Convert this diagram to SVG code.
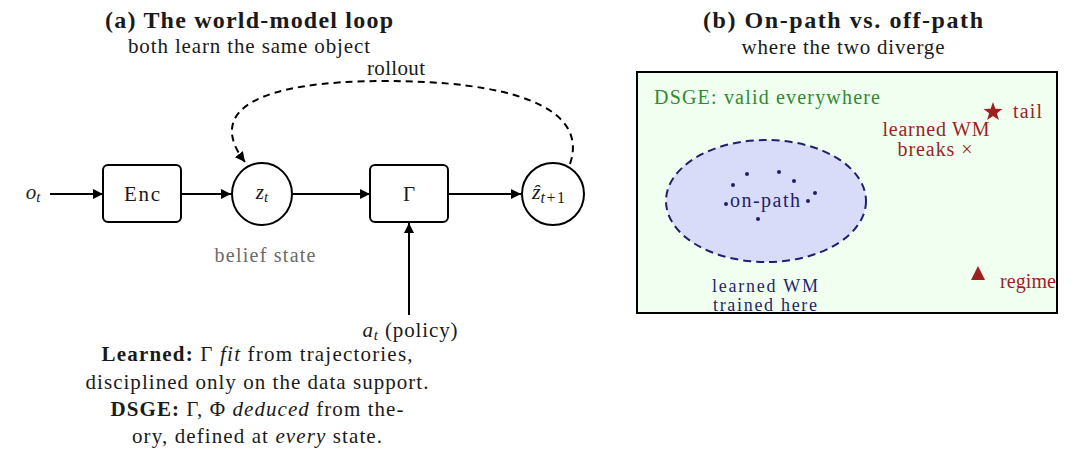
<svg xmlns="http://www.w3.org/2000/svg" width="1080" height="460" viewBox="0 0 1080 460">
  <style>
    text { font-family: "Liberation Serif", "Times New Roman", serif; fill: #1a1a1a; }
    .title { font-size: 24px; font-weight: bold; text-anchor: middle; }
    .sub { font-size: 21px; text-anchor: middle; }
    .lbl { font-size: 21px; text-anchor: middle; }
    .it { font-style: italic; }
    .b { font-weight: bold; }
    .node { fill: #ffffff; stroke: #000; stroke-width: 2; }
    .edge { fill: none; stroke: #000; stroke-width: 2; }
    .dash { fill: none; stroke: #000; stroke-width: 2; stroke-dasharray: 7 5; }
    .red { fill: #9e1f1f; }
    .navy { fill: #1f1f6e; }
    .green { fill: #2e8b2e; }
  </style>
  <defs>
    <marker id="arr" viewBox="0 0 10 10" refX="10" refY="5" markerWidth="10" markerHeight="10" markerUnits="userSpaceOnUse" orient="auto">
      <path d="M0,0 L10,5 L0,10 z" fill="#000"/>
    </marker>
  </defs>
  <rect x="0" y="0" width="1080" height="460" fill="#ffffff"/>

  <!-- Panel (a) -->
  <text class="title" x="249" y="28" textLength="288" lengthAdjust="spacing">(a) The world-model loop</text>
  <text class="sub" x="249" y="53" textLength="242" lengthAdjust="spacing">both learn the same object</text>

  <g id="connectors">
    <line class="edge" x1="50" y1="194" x2="103" y2="194" marker-end="url(#arr)"/>
    <line class="edge" x1="181" y1="194" x2="231" y2="194" marker-end="url(#arr)"/>
    <line class="edge" x1="293" y1="194" x2="370" y2="194" marker-end="url(#arr)"/>
    <line class="edge" x1="448" y1="194" x2="521" y2="194" marker-end="url(#arr)"/>
    <line class="edge" x1="409" y1="315" x2="409" y2="223" marker-end="url(#arr)"/>
    <path class="dash" d="M570,164 C590,105 505,81 385,81 C258,81 205,110 245,162" marker-end="url(#arr)"/>
    <text class="sub" x="396" y="75" textLength="58" lengthAdjust="spacing">rollout</text>
  </g>

  <g id="o_t">
    <text class="lbl" x="33" y="199"><tspan class="it">o</tspan><tspan class="it" font-size="15" dy="3">t</tspan></text>
  </g>
  <g id="enc">
    <rect class="node" x="103" y="165" width="78" height="57" rx="5"/>
    <text class="lbl" x="142" y="201" textLength="36" lengthAdjust="spacing">Enc</text>
  </g>
  <g id="z_t">
    <ellipse class="node" cx="262" cy="194" rx="30" ry="31"/>
    <text class="lbl" x="262" y="199" font-size="22"><tspan class="it">z</tspan><tspan class="it" font-size="15" dy="3">t</tspan></text>
    <text x="265" y="262" font-size="20" text-anchor="middle" style="fill:#6a6a6a" textLength="101" lengthAdjust="spacing">belief state</text>
  </g>
  <g id="gamma">
    <rect class="node" x="370" y="165" width="78" height="57" rx="5"/>
    <text class="lbl" x="409" y="201">Γ</text>
  </g>
  <g id="zhat">
    <ellipse class="node" cx="553" cy="194" rx="31" ry="31"/>
    <text x="532" y="199" font-size="22"><tspan class="it">ẑ</tspan><tspan font-size="16" dy="4" letter-spacing="1.5"><tspan class="it">t</tspan>+1</tspan></text>
  </g>
  <g id="a_t">
    <text class="lbl" x="410" y="337" textLength="95" lengthAdjust="spacing"><tspan class="it">a</tspan><tspan class="it" font-size="15" dy="3">t</tspan><tspan dy="-3"> (policy)</tspan></text>
  </g>

  <g id="notes">
    <text class="lbl" x="257" y="361" textLength="311" lengthAdjust="spacing"><tspan class="b">Learned:</tspan> Γ <tspan class="it">fit</tspan> from trajectories,</text>
    <text class="lbl" x="257" y="389" textLength="343" lengthAdjust="spacing">disciplined only on the data support.</text>
    <text class="lbl" x="257" y="416" textLength="293" lengthAdjust="spacing"><tspan class="b">DSGE:</tspan> Γ, Φ <tspan class="it">deduced</tspan> from the-</text>
    <text class="lbl" x="257" y="443" textLength="250" lengthAdjust="spacing">ory, defined at <tspan class="it">every</tspan> state.</text>
  </g>

  <!-- Panel (b) -->
  <text class="title" x="843" y="28" textLength="280" lengthAdjust="spacing">(b) On-path vs. off-path</text>
  <text class="sub" x="843" y="54" textLength="203" lengthAdjust="spacing">where the two diverge</text>

  <g id="space">
    <rect x="637" y="72" width="420" height="241" fill="#f0fff0" stroke="#000" stroke-width="2"/>
    <text class="green" x="654" y="104" font-size="20" textLength="226" lengthAdjust="spacing">DSGE: valid everywhere</text>
  </g>
  <g id="onpath">
    <ellipse cx="766" cy="201" rx="100" ry="61" fill="#d9dcf8" stroke="#1f1f6e" stroke-width="2" stroke-dasharray="8 5"/>
    <g class="navy">
      <circle cx="747" cy="174" r="2"/>
      <circle cx="779" cy="172" r="2"/>
      <circle cx="794" cy="181" r="2"/>
      <circle cx="733" cy="185" r="2"/>
      <circle cx="815" cy="193" r="2"/>
      <circle cx="726" cy="204" r="2"/>
      <circle cx="808" cy="201" r="2"/>
      <circle cx="758" cy="219" r="2"/>
    </g>
    <text class="navy" x="765" y="207" font-size="20" text-anchor="middle" textLength="70" lengthAdjust="spacing">on-path</text>
    <text class="navy" x="765" y="292" font-size="18" text-anchor="middle" textLength="106" lengthAdjust="spacing">learned WM</text>
    <text class="navy" x="765" y="311" font-size="18" text-anchor="middle" textLength="104" lengthAdjust="spacing">trained here</text>
  </g>
  <g id="tail">
    <polygon class="red" points="993,102 995.4,108.7 1002.5,108.9 996.9,113.3 998.9,120.1 993,116.1 987.1,120.1 989.1,113.3 983.5,108.9 990.6,108.7"/>
    <text class="red" x="1013" y="118" font-size="20" textLength="29" lengthAdjust="spacing">tail</text>
    <text class="red" x="936" y="136" font-size="20" text-anchor="middle" textLength="107" lengthAdjust="spacing">learned WM</text>
    <text class="red" x="935" y="156" font-size="20" text-anchor="middle" textLength="75" lengthAdjust="spacing">breaks ×</text>
  </g>
  <g id="regime">
    <polygon class="red" points="978,266 985,280 971,280"/>
    <text class="red" x="1000" y="288" font-size="20" textLength="56" lengthAdjust="spacing">regime</text>
  </g>
</svg>
